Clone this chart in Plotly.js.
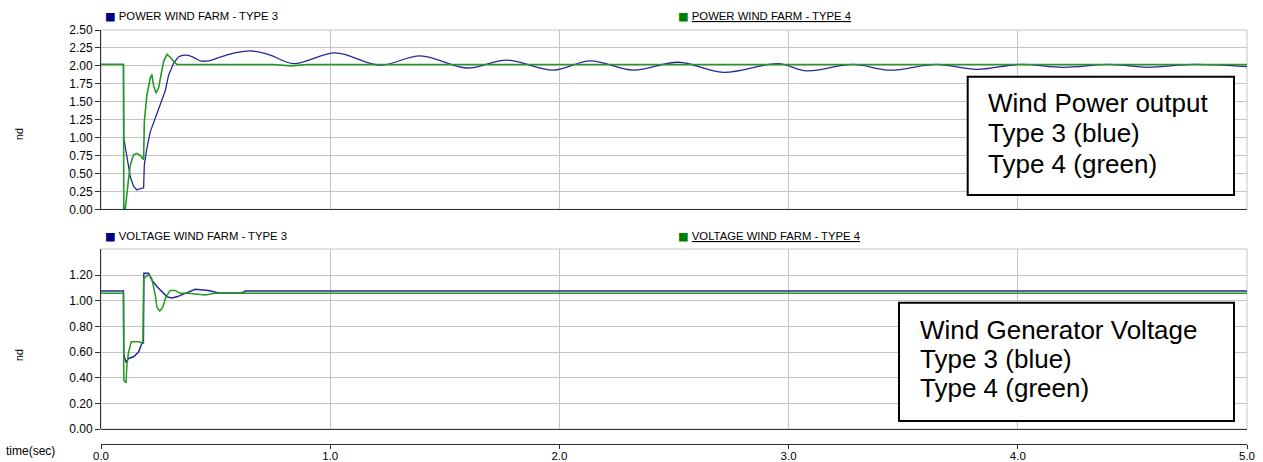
<!DOCTYPE html>
<html>
<head>
<meta charset="utf-8">
<script src="https://cdn.plot.ly/plotly-3.0.1.min.js"></script>
<style>
  html, body { margin: 0; padding: 0; background: #ffffff; }
  #chart { width: 1263px; height: 462px; }
</style>
</head>
<body>
<div id="chart"></div>
<script>
// ---------------- data ----------------
const timeTicks = [0, 1, 2, 3, 4, 5];
const powerTicks = [0, 0.25, 0.5, 0.75, 1.0, 1.25, 1.5, 1.75, 2.0, 2.25, 2.5];
const voltageTicks = [0, 0.2, 0.4, 0.6, 0.8, 1.0, 1.2];

const seriesNames = ["POWER WIND FARM - TYPE 3", "POWER WIND FARM - TYPE 4",
                     "VOLTAGE WIND FARM - TYPE 3", "VOLTAGE WIND FARM - TYPE 4"];

// Power, Type 3 (blue)
const tPower3 = [0, 0.098, 0.0995, 0.113, 0.1205, 0.128, 0.142, 0.157, 0.172, 0.186, 0.189, 0.2, 0.215,
  0.237, 0.259, 0.281, 0.295, 0.317, 0.339, 0.368, 0.397, 0.433, 0.469, 0.527, 0.585, 0.652, 0.738,
  0.84, 1.022, 1.218, 1.393, 1.596, 1.77, 1.974, 2.134, 2.323, 2.519, 2.715, 2.955, 3.079, 3.282,
  3.442, 3.646, 3.82, 4.009, 4.198, 4.402, 4.569, 4.765, 5.0];
const power3 = [2.02, 2.02, 0.99, 0.76, 0.62, 0.45, 0.32, 0.27, 0.29, 0.30, 0.62, 0.85, 1.08,
  1.27, 1.45, 1.66, 1.87, 2.04, 2.13, 2.15, 2.13, 2.07, 2.07, 2.13, 2.18, 2.21, 2.15,
  2.03, 2.18, 2.01, 2.14, 1.97, 2.08, 1.94, 2.07, 1.94, 2.05, 1.91, 2.03, 1.93, 2.02,
  1.94, 2.02, 1.95, 2.02, 1.98, 2.02, 1.98, 2.02, 1.99];

// Power, Type 4 (green)
const tPower4 = [0, 0.098, 0.0995, 0.106, 0.1205, 0.128, 0.142, 0.157, 0.172, 0.186, 0.189, 0.2,
  0.215, 0.222, 0.229, 0.24, 0.251, 0.266, 0.273, 0.288, 0.302, 0.317, 0.331, 0.75, 0.83, 0.9, 5.0];
const power4 = [2.02, 2.02, 0.0, 0.01, 0.43, 0.62, 0.76, 0.78, 0.75, 0.69, 1.22, 1.59,
  1.83, 1.88, 1.73, 1.62, 1.69, 1.92, 2.06, 2.16, 2.12, 2.06, 2.02, 2.02, 2.0, 2.02, 2.02];

// Voltage, Type 3 (blue)
const tVolt3 = [0, 0.098, 0.0995, 0.109, 0.1205, 0.142, 0.164, 0.179, 0.185, 0.187, 0.208, 0.222,
  0.244, 0.266, 0.288, 0.309, 0.331, 0.368, 0.411, 0.469, 0.513, 0.615, 0.63, 5.0];
const volt3 = [1.075, 1.075, 0.577, 0.52, 0.55, 0.563, 0.60, 0.67, 0.67, 1.213, 1.213, 1.16,
  1.11, 1.07, 1.03, 1.02, 1.03, 1.057, 1.088, 1.08, 1.06, 1.06, 1.075, 1.075];

// Voltage, Type 4 (green)
const tVolt4 = [0, 0.098, 0.0995, 0.106, 0.109, 0.113, 0.1205, 0.132, 0.164, 0.183, 0.186, 0.208,
  0.222, 0.237, 0.244, 0.256, 0.27, 0.283, 0.302, 0.324, 0.346, 0.382, 0.411, 0.455, 0.498, 5.0];
const volt4 = [1.057, 1.057, 0.38, 0.37, 0.36, 0.50, 0.60, 0.68, 0.68, 0.67, 1.17, 1.205,
  1.17, 1.04, 0.95, 0.92, 0.95, 1.03, 1.08, 1.08, 1.057, 1.057, 1.05, 1.045, 1.057, 1.057];

const boxTop = ["Wind Power output", "Type 3 (blue)", "Type 4 (green)"];
const boxBottom = ["Wind Generator Voltage", "Type 3 (blue)", "Type 4 (green)"];

// ---------------- layout helpers ----------------
const W = 1263, H = 462;
const ml = 101, mr = 16, mt = 30, mb = 18;
const pw = W - ml - mr, ph = H - mt - mb;
const px = p => (p - ml) / pw;
const py = p => 1 - (p - mt) / ph;

const BLUE = '#262696', GREEN = '#239a23';
const NAVY = '#000080', DKGREEN = '#008000';
const GRID = '#c4c4c4', AXIS = '#303030';
const FONT = 'Liberation Sans, Arial, sans-serif';

// split the Type 3 power curve so that the slow oscillation is drawn smoothly
const splitAt = 18;
const traces = [
  { x: tPower3.slice(0, splitAt + 1), y: power3.slice(0, splitAt + 1), xaxis: 'x', yaxis: 'y',
    mode: 'lines', line: { color: BLUE, width: 1.3 }, name: seriesNames[0] },
  { x: tPower3.slice(splitAt), y: power3.slice(splitAt), xaxis: 'x', yaxis: 'y',
    mode: 'lines', line: { color: BLUE, width: 1.3, shape: 'spline', smoothing: 1 }, name: seriesNames[0] },
  { x: tPower4, y: power4, xaxis: 'x', yaxis: 'y', mode: 'lines',
    line: { color: GREEN, width: 1.6 }, name: seriesNames[1] },
  { x: tVolt3, y: volt3, xaxis: 'x2', yaxis: 'y2', mode: 'lines',
    line: { color: BLUE, width: 1.5 }, name: seriesNames[2] },
  { x: tVolt4, y: volt4, xaxis: 'x2', yaxis: 'y2', mode: 'lines',
    line: { color: GREEN, width: 1.5 }, name: seriesNames[3] }
];

const topDomain = [py(209.3), 1];
const botDomain = [py(429), py(249)];

const tickFont = { family: FONT, size: 12, color: '#000' };

const layout = {
  width: W, height: H,
  margin: { l: ml, r: mr, t: mt, b: mb, pad: 0 },
  paper_bgcolor: '#ffffff', plot_bgcolor: '#ffffff',
  showlegend: false,
  font: { family: FONT, size: 11, color: '#000' },
  xaxis: {
    domain: [0, 1], anchor: 'y', range: [0, 5], tickvals: timeTicks,
    showticklabels: false, ticks: '', showgrid: true, gridcolor: GRID, gridwidth: 1,
    showline: true, linecolor: AXIS, linewidth: 1, zeroline: false, fixedrange: true
  },
  yaxis: {
    domain: topDomain, anchor: 'x', range: [0, 2.5], tickvals: powerTicks, tickformat: '.2f',
    ticks: 'outside', ticklen: 5, tickcolor: AXIS, tickfont: tickFont,
    showgrid: true, gridcolor: GRID, showline: true, linecolor: AXIS, zeroline: false
  },
  xaxis2: {
    domain: [0, 1], anchor: 'free', position: 0, range: [0, 5], tickvals: timeTicks,
    tickformat: '.1f', ticks: 'outside', ticklen: 4, tickcolor: AXIS,
    tickfont: { family: FONT, size: 11.5, color: '#000' }, ticklabelstandoff: -3,
    showgrid: true, gridcolor: GRID, showline: true, linecolor: AXIS, zeroline: false
  },
  yaxis2: {
    domain: botDomain, anchor: 'x2', range: [0, 1.4026], tickvals: voltageTicks, tickformat: '.2f',
    ticks: 'outside', ticklen: 5, tickcolor: AXIS, tickfont: tickFont,
    showgrid: true, gridcolor: GRID, showline: true, linecolor: AXIS,
    zeroline: true, zerolinecolor: AXIS, zerolinewidth: 1
  },
  shapes: [
    { type: 'rect', xref: 'x domain', yref: 'y domain', x0: 0, x1: 1, y0: 0, y1: 1,
      line: { color: GRID, width: 1 }, layer: 'below' },
    { type: 'rect', xref: 'x2 domain', yref: 'y2 domain', x0: 0, x1: 1, y0: 0, y1: 1,
      line: { color: GRID, width: 1 }, layer: 'below' },
    { type: 'rect', xref: 'paper', yref: 'paper', x0: px(967.7), x1: px(1234), y0: py(195), y1: py(76.7),
      line: { color: '#000', width: 2 }, fillcolor: '#ffffff', layer: 'above' },
    { type: 'rect', xref: 'paper', yref: 'paper', x0: px(899), x1: px(1234), y0: py(421), y1: py(302.7),
      line: { color: '#000', width: 2 }, fillcolor: '#ffffff', layer: 'above' }
  ],
  annotations: []
};

const ann = layout.annotations;
function legendItem(xp, yp, color, text, underline) {
  ann.push({
    xref: 'paper', yref: 'paper', x: px(xp), y: py(yp), xanchor: 'left', yanchor: 'middle',
    showarrow: false, font: { family: FONT, size: 11.3, color: '#000' },
    text: '<span style="color:' + color + ';font-family:DejaVu Sans">■</span> ' +
      (underline ? '<u>' + text + '</u>' : text)
  });
}
legendItem(102.5, 16, NAVY, seriesNames[0], false);
legendItem(675.5, 16, DKGREEN, seriesNames[1], true);
legendItem(102.5, 236, NAVY, seriesNames[2], false);
legendItem(675.5, 236, DKGREEN, seriesNames[3], true);

// y-axis unit labels
[134, 355].forEach(yy => ann.push({
  xref: 'paper', yref: 'paper', x: px(21), y: py(yy), xanchor: 'center', yanchor: 'middle',
  showarrow: false, textangle: 90, text: 'pu', font: { family: FONT, size: 11, color: '#000' }
}));

// time label
ann.push({
  xref: 'paper', yref: 'paper', x: px(4), y: py(451), xanchor: 'left', yanchor: 'middle',
  showarrow: false, text: 'time(sec)', font: { family: FONT, size: 12, color: '#000' }
});

// boxed notes
function boxLines(lines, xLeft, centers) {
  lines.forEach((s, i) => ann.push({
    xref: 'paper', yref: 'paper', x: px(xLeft), y: py(centers[i]), xanchor: 'left', yanchor: 'middle',
    showarrow: false, text: s, font: { family: FONT, size: 26, color: '#000' }
  }));
}
boxLines(boxTop, 986, [102.7, 132.7, 163.5]);
boxLines(boxBottom, 918, [330.3, 359.3, 387.7]);

Plotly.newPlot('chart', traces, layout, { staticPlot: true, displayModeBar: false });
</script>
</body>
</html>
